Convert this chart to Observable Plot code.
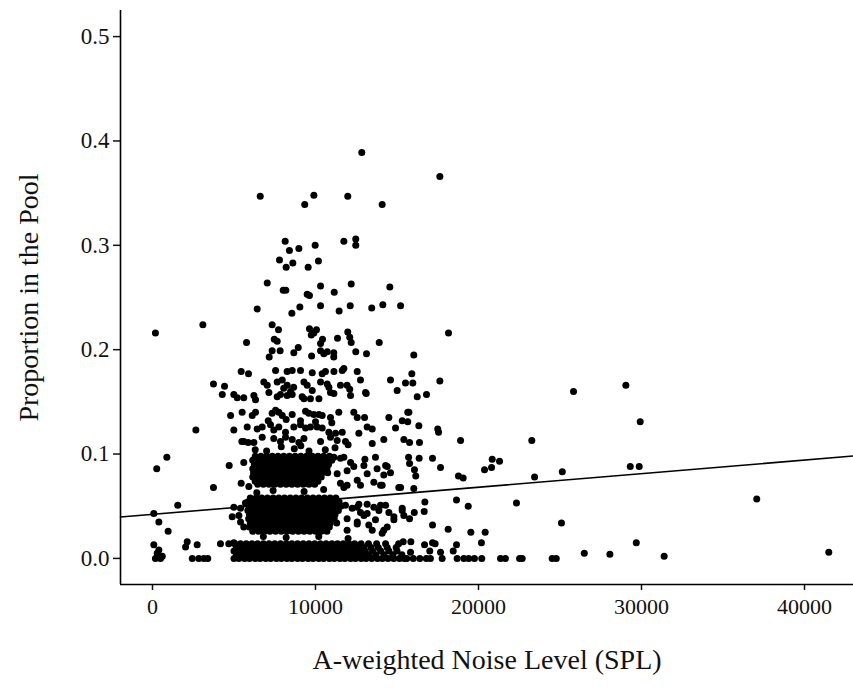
<!DOCTYPE html>
<html>
<head>
<meta charset="utf-8">
<script src="https://cdn.jsdelivr.net/npm/d3@7"></script>
<script src="https://cdn.jsdelivr.net/npm/@observablehq/plot@0.6"></script>
<style>
  html, body { margin: 0; padding: 0; background: #fff; }
  #chart svg { display: block; }
</style>
</head>
<body>
<div id="chart"></div>
<script>
// ---- chart text ----
const xTitle = "A-weighted Noise Level (SPL)";
const yTitle = "Proportion in the Pool";
const xTicks = [0, 10000, 20000, 30000, 40000];
const yTicks = [0, 0.1, 0.2, 0.3, 0.4, 0.5];
const xDomain = [-1963, 43006];
const yDomain = [-0.025, 0.525];

// ---- fitted line ----
const fitIntercept = 0.0422;
const fitSlope = 1.3e-6;

// ---- sparse points: [noise, proportion] ----
const upperPoints = [
  [12840,0.389],[17630,0.366],[6610,0.347],[9900,0.348],[9340,0.339],[11980,0.347],[14090,0.339],
  [8140,0.304],[8400,0.295],[8980,0.297],[9980,0.300],[11740,0.304],[12470,0.306],[12470,0.300],
  [7790,0.286],[8200,0.279],[8610,0.283],[9550,0.279],[10180,0.285],
  [7040,0.264],[8020,0.257],[8180,0.257],[9490,0.253],[9630,0.252],[10310,0.261],[11150,0.255],[12190,0.263],[14560,0.260],
  [6420,0.239],[8550,0.235],[9040,0.241],[10310,0.242],[11450,0.237],[12130,0.242],[13450,0.240],[14130,0.243],[15220,0.242],
  [180,0.216],[3090,0.224],[18160,0.216],[5770,0.207],[7340,0.224],[7730,0.219],[7470,0.210],[7650,0.208],
  [9630,0.220],[10060,0.219],[9740,0.214],[9900,0.216],[10430,0.210],[10310,0.206],[11350,0.211],[11980,0.217],[12100,0.212],[12190,0.207],[13910,0.207],
  [7340,0.199],[7160,0.193],[7830,0.199],[8670,0.197],[8940,0.202],[9760,0.194],[10310,0.199],[10510,0.196],[10720,0.198],
  [11120,0.197],[11120,0.193],[12470,0.198],[13130,0.196],[16030,0.195]
];

const midPoints = [
  [7550,0.180],[8260,0.179],[8570,0.180],[9080,0.180],[9800,0.178],[10410,0.177],[10610,0.179],[11130,0.179],[11640,0.180],[11740,0.182],[12560,0.179],
  [5440,0.179],[5890,0.177],[3740,0.167],[4420,0.165],[4280,0.157],
  [6830,0.169],[7040,0.166],[7650,0.169],[7960,0.171],[8260,0.166],[9290,0.169],[9490,0.166],[10310,0.169],[10720,0.167],[10820,0.164],[11530,0.166],[11940,0.166],[12760,0.171],[14600,0.171],[15010,0.161],
  [8050,0.163],[8660,0.164],[9800,0.161],[12100,0.162],[13110,0.158],[8470,0.160],
  [4990,0.157],[5200,0.154],[5600,0.154],[6220,0.156],[6320,0.152],[7140,0.159],[7650,0.155],[7850,0.157],[8260,0.156],[8570,0.157],[9180,0.155],[9290,0.153],[9690,0.153],[10210,0.153],[10920,0.159],[11130,0.158],[12150,0.156],[13070,0.159],
  [4790,0.137],[5500,0.140],[6120,0.137],[6320,0.140],[7340,0.139],[7550,0.142],[7750,0.140],[7960,0.137],[8570,0.138],[9080,0.132],[9390,0.141],[9590,0.139],[9900,0.138],[10210,0.138],[10410,0.137],[10920,0.135],[11430,0.140],[12350,0.140],[12560,0.135],[13010,0.135],[14500,0.135],[15730,0.140],
  [8200,0.133],[10000,0.131],[11000,0.130],[7100,0.132],
  [2660,0.123],[4990,0.123],[5810,0.126],[6420,0.124],[6730,0.126],[7240,0.128],[7440,0.123],[7750,0.126],[8160,0.121],[8670,0.126],[9080,0.128],[9390,0.125],[9690,0.126],[10100,0.126],[10410,0.125],[10820,0.121],[11230,0.120],[11640,0.121],[12660,0.120],[13170,0.126],[13480,0.124],[14910,0.125],[16340,0.127],
  [5480,0.112],[5870,0.111],[5600,0.112],[6220,0.111],[6730,0.116],[7440,0.115],[7850,0.112],[8160,0.116],[8570,0.114],[8980,0.111],[9290,0.115],[10310,0.112],[10920,0.116],[11330,0.113],[11840,0.112],[13480,0.110],[14190,0.114],
  [6300,0.104],[7000,0.103],[7900,0.107],[8700,0.105],[9100,0.108],[9600,0.103],[10600,0.104],[11200,0.106],[12000,0.109]
];

const rightPoints = [
  [15910,0.177],[15520,0.168],[15970,0.168],[17630,0.170],[16240,0.155],[16810,0.157],[15660,0.140],[15320,0.132],[15660,0.131],
  [17500,0.124],[17550,0.121],[18900,0.113],[15420,0.114],[15770,0.111],[16380,0.111],[23270,0.113],[25830,0.160],[29040,0.166],[29920,0.131],
  [15710,0.097],[15770,0.091],[16360,0.096],[17180,0.096],[16070,0.085],[16150,0.079],[17670,0.087],[20840,0.095],[20800,0.087],[21290,0.093],
  [20370,0.085],[18770,0.079],[19060,0.077],[23440,0.078],[25140,0.083],[29310,0.088],[29860,0.088],
  [15220,0.068],[16030,0.067],[16710,0.054],[16670,0.045],[16060,0.044],[15320,0.046],[15420,0.041],[15770,0.038],[18650,0.056],[19370,0.050],[22330,0.053],[37070,0.057],
  [17180,0.032],[18140,0.028],[19530,0.025],[20410,0.025],[25090,0.034],
  [15380,0.016],[15850,0.016],[16690,0.013],[17180,0.015],[17340,0.014],[18650,0.013],[18450,0.007],[20180,0.015],[29680,0.015],
  [26490,0.005],[28060,0.004],[31390,0.002],[41490,0.006],[15830,0.006],[17010,0.007],[17670,0.006]
];

const leftPoints = [
  [880,0.097],[260,0.086],[3740,0.068],[1550,0.051],[80,0.043],[390,0.035],[960,0.026],
  [80,0.013],[390,0.008],[290,0.005],[180,0.000],[490,0.000],[600,0.002],
  [2130,0.016],[2030,0.011],[2740,0.013],[2440,0.000],[2840,0.000],[3150,0.000],[3390,0.000],
  [4170,0.014],[4680,0.014],[4990,0.015],
  [4705,0.089],[5600,0.092],[5440,0.072],[5910,0.069],
  [4990,0.049],[5400,0.048],[4890,0.040],[5300,0.041],[5400,0.035],[5600,0.030],[5700,0.053]
];

// points around the edges of the dense bands
const bandEdgePoints = [
  [11130,0.097],[11740,0.097],[12150,0.092],[11330,0.081],[11940,0.084],[11530,0.072],[11940,0.070],[12560,0.075],[12970,0.089],[13170,0.081],
  [13680,0.097],[13780,0.086],[14300,0.089],[14190,0.080],[13580,0.073],[13990,0.070],[14400,0.088],[14600,0.082],[13030,0.095],[12350,0.088],
  [11530,0.096],[12760,0.070],[14090,0.070],[11740,0.068],[15110,0.068],
  [11840,0.051],[12250,0.048],[12560,0.049],[12760,0.044],[13170,0.052],[13580,0.049],[13890,0.046],[14300,0.051],[14500,0.044],[14810,0.040],
  [15320,0.048],[11940,0.038],[12560,0.035],[12970,0.041],[13270,0.032],[13680,0.037],[14190,0.027],[14400,0.030],[14810,0.037],[11940,0.027],
  [13480,0.027],[12560,0.033],[13170,0.043],[12660,0.052],[13990,0.051],[14090,0.024],
  [6400,0.063],[7400,0.065],[9300,0.064],[10500,0.066],[8200,0.020],[10200,0.021],[12000,0.019],[6800,0.021]
];

// dense bands: [proportion, [noise levels...]]
const highBandRows = [
  [0.098, [6300,6650,7000,7350,7700,8050,8400,8750,9100,9450,9800,10150,10500,10850]],
  [0.094, [6150,6500,6850,7200,7550,7900,8250,8600,8950,9300,9650,10000,10350,10700,11000]],
  [0.090, [6250,6600,6950,7300,7650,8000,8350,8700,9050,9400,9750,10100,10450,10800]],
  [0.086, [6150,6500,6850,7200,7550,7900,8250,8600,8950,9300,9650,10000,10350,10700]],
  [0.082, [6200,6550,6900,7250,7600,7950,8300,8650,9000,9350,9700,10050,10400,10750]],
  [0.078, [6150,6500,6850,7200,7550,7900,8250,8600,8950,9300,9650,10000,10350]],
  [0.074, [6300,6650,7000,7350,7700,8050,8400,8750,9100,9450,9800,10150]],
  [0.071, [6450,6800,7150,7500,7850,8200,8550,8900,9250,9600,9950]]
];

const middleBandRows = [
  [0.058, [6000,6350,6700,7050,7400,7750,8100,8450,8800,9150,9500,9850,10200,10550,10900,11250]],
  [0.054, [5850,6200,6550,6900,7250,7600,7950,8300,8650,9000,9350,9700,10050,10400,10750,11100,11450]],
  [0.050, [5950,6300,6650,7000,7350,7700,8050,8400,8750,9100,9450,9800,10150,10500,10850,11200,11550]],
  [0.046, [5850,6200,6550,6900,7250,7600,7950,8300,8650,9000,9350,9700,10050,10400,10750,11100,11400]],
  [0.042, [5950,6300,6650,7000,7350,7700,8050,8400,8750,9100,9450,9800,10150,10500,10850,11200]],
  [0.038, [5900,6250,6600,6950,7300,7650,8000,8350,8700,9050,9400,9750,10100,10450,10800,11150]],
  [0.034, [6000,6350,6700,7050,7400,7750,8100,8450,8800,9150,9500,9850,10200,10550,10900,11300]],
  [0.030, [5950,6300,6650,7000,7350,7700,8050,8400,8750,9100,9450,9800,10150,10500,10850]],
  [0.026, [6150,6500,6850,7200,7550,7900,8250,8600,8950,9300,9650,10000,10350,10700]]
];

const lowBandRows = [
  [0.000, [5000,5300,5650,5950,6300,6600,6950,7250,7600,7900,8250,8550,8900,9200,9550,9850,10200,10500,10850,11150,11500,11800,12150,12450,12800,13100,13450,13800,14100,14450,14800,15150,15450,
           15600,16000,16400,16800,17050,17770,18690,19100,19400,19750,20200,21350,21650,22520,22680,24520,24770]],
  [0.0035,[5150,5500,5850,6200,6550,6900,7250,7600,7950,8300,8650,9000,9350,9700,10050,10400,10750,11100,11450,11800,12150,12500,12850,13250,13700,14200,14750,15300]],
  [0.007, [5000,5350,5700,6050,6400,6750,7100,7450,7800,8150,8500,8850,9200,9550,9900,10250,10600,10950,11300,11650,12000,12350,12700,13050,13500,14000,14500,15000]],
  [0.0105,[5150,5500,5850,6200,6550,6900,7250,7600,7950,8300,8650,9000,9350,9700,10050,10400,10750,11100,11450,11800,12150,12550,12950,13400,13850,14400,14950]],
  [0.014, [5050,5400,5750,6100,6450,6800,7150,7500,7850,8200,8550,8900,9250,9600,9950,10300,10650,11000,11350,11700,12050,12400,12800,13250,13750,14300,15100]]
];

// ---- build table ----
const fromPairs = arr => arr.map(([noise, proportion]) => ({noise, proportion}));
const fromRows = rows => rows.flatMap(([proportion, xs]) => xs.map(noise => ({noise, proportion})));

const points = [
  ...fromPairs(upperPoints), ...fromPairs(midPoints), ...fromPairs(rightPoints),
  ...fromPairs(leftPoints), ...fromPairs(bandEdgePoints),
  ...fromRows(highBandRows), ...fromRows(middleBandRows), ...fromRows(lowBandRows)
];

const fitLine = xDomain.map(noise => ({noise, proportion: fitIntercept + fitSlope * noise}));

const chart = Plot.plot({
  width: 853,
  height: 689,
  marginLeft: 120,
  marginRight: 0,
  marginTop: 10,
  marginBottom: 105,
  style: {
    fontFamily: "'Liberation Serif', 'Times New Roman', serif",
    fontSize: "22px",
    color: "#111",
    background: "#fff",
    overflow: "visible"
  },
  x: {domain: xDomain},
  y: {domain: yDomain},
  marks: [
    Plot.axisX(xTicks, {tickSize: 6, tickPadding: 8, tickFormat: d => String(d), label: null, strokeWidth: 1.5, fontSize: 22, fontFamily: "'Liberation Serif', serif"}),
    Plot.axisY(yTicks, {tickSize: 7, tickPadding: 4, tickFormat: d => d.toFixed(1), label: null, strokeWidth: 1.5, fontSize: 23, fontFamily: "'Liberation Serif', serif"}),
    Plot.ruleX([xDomain[0]], {stroke: "#000", strokeWidth: 1.6}),
    Plot.ruleY([yDomain[0]], {stroke: "#000", strokeWidth: 1.6}),
    Plot.dot(points, {x: "noise", y: "proportion", r: 3.5, fill: "#000"}),
    Plot.line(fitLine, {x: "noise", y: "proportion", stroke: "#000", strokeWidth: 1.6}),
    Plot.text([xTitle], {text: d => d, frameAnchor: "bottom", dy: 84, fontSize: 28, fontFamily: "'Liberation Serif', serif", fill: "#111"}),
    Plot.text([yTitle], {text: d => d, frameAnchor: "left", textAnchor: "middle", dx: -91, rotate: -90, fontSize: 28, fontFamily: "'Liberation Serif', serif", fill: "#111"})
  ]
});

document.getElementById("chart").appendChild(chart);
</script>
</body>
</html>
